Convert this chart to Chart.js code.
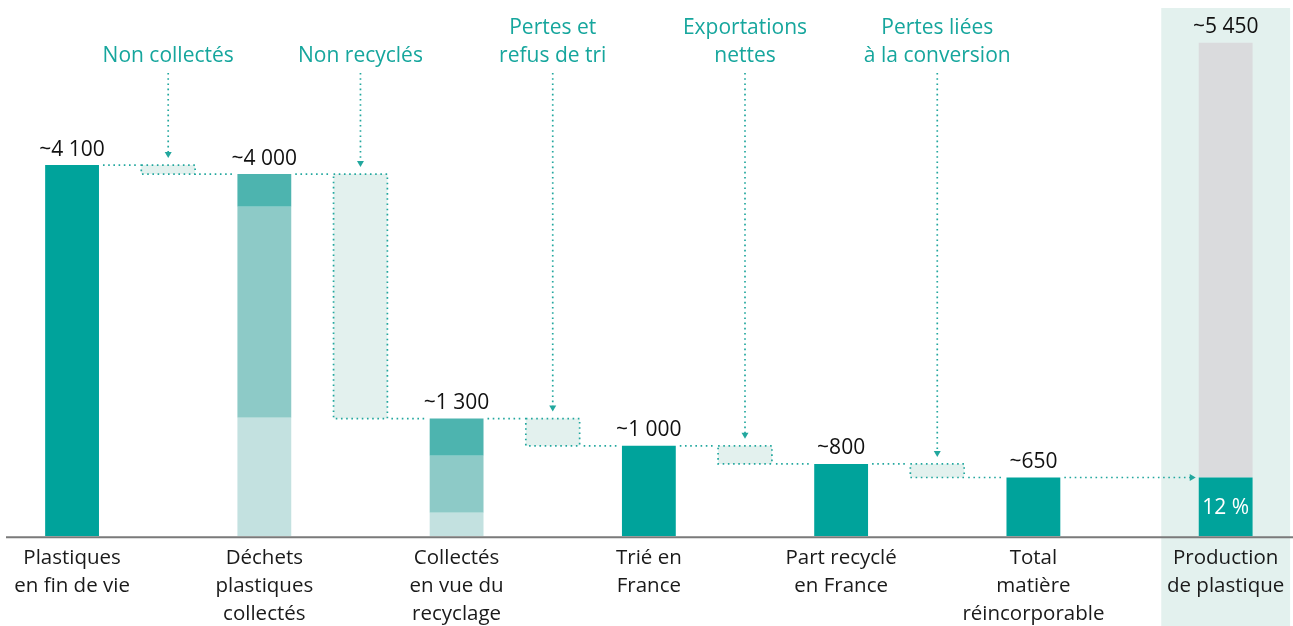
<!DOCTYPE html>
<html>
<head>
<meta charset="utf-8">
<script src="https://cdn.jsdelivr.net/npm/chart.js@4.4.1/dist/chart.umd.min.js"></script>
<style>
    html, body { margin: 0; padding: 0; background: #fff; }
    #cadre { width: 1293px; height: 626px; }
</style>
</head>
<body>
<div id="cadre"><canvas id="graphique"></canvas></div>
<script>
// catégories (13 colonnes, les colonnes vides portent les pertes)
var etapes = [['Plastiques', 'en fin de vie'], '', ['Déchets', 'plastiques', 'collectés'], '',
    ['Collectés', 'en vue du', 'recyclage'], '', ['Trié en', 'France'], '', ['Part recyclé', 'en France'], '',
    ['Total', 'matière', 'réincorporable'], '', ['Production', 'de plastique']];

// barres pleines (kt)
var totaux = [4100, null, null, null, null, null, 1000, null, 800, null, 650, null, 650];
var totauxTexte = ['~4 100', '', '~4 000', '', '~1 300', '', '~1 000', '', '~800', '', '~650', '', ''];
var sommets = [4100, null, 4000, null, 1300, null, 1000, null, 800, null, 650, null, null];

// barres empilées (déchets collectés / collectés en vue du recyclage)
var segClair = [null, null, 1310, null, 260, null, null, null, null, null, null, null, null];
var segMoyen = [null, null, 3640, null, 890, null, null, null, null, null, null, null, null];
var segFonce = [null, null, 4000, null, 1300, null, null, null, null, null, null, null, null];

// pertes (barres flottantes)
var pertesHaut = [null, 4100, null, 4000, null, 1300, null, 1000, null, 800, null, null, null];
var pertesBas = [null, 4000, null, 1300, null, 1000, null, 800, null, 650, null, null, null];
var pertesNoms = [null, ['', 'Non collectés'], null, ['', 'Non recyclés'], null, ['Pertes et', 'refus de tri'], null,
    ['Exportations', 'nettes'], null, ['Pertes liées', 'à la conversion'], null, null, null];

// production
var production = 5450;
var productionTexte = '~5 450';
var partTexte = '12 %';

var TEAL = '#00A39B';
var POLICE = '"Open Sans", "Noto Sans", sans-serif';

function flottant(bas, haut) {
    return bas.map(function (b, i) { return (b === null || haut[i] === null) ? null : [b, haut[i]]; });
}
var zeros = etapes.map(function () { return 0; });

var dataPrincipale = totaux.map(function (v) { return v === null ? null : [0, v]; });
var dataClair = flottant(zeros, segClair);
var dataMoyen = flottant(segClair, segMoyen);
var dataFonce = flottant(segMoyen, segFonce);
var dataPertes = flottant(pertesBas, pertesHaut);
var dataGris = etapes.map(function (e, i) { return i === 12 ? [650, production] : null; });

function pointille(ctx) {
    ctx.setLineDash([1.6, 3.6]);
    ctx.lineWidth = 1.7;
    ctx.strokeStyle = '#22A79E';
}

var decor = {
    id: 'decor',
    beforeDraw: function (chart) {
        var ctx = chart.ctx;
        var x = chart.scales.x;
        var pas = x.getPixelForValue(1) - x.getPixelForValue(0);
        var cx = x.getPixelForValue(12);
        ctx.save();
        ctx.fillStyle = '#E3F1EE';
        ctx.fillRect(cx - pas * 0.67, 8, pas * 1.34, chart.height);
        ctx.restore();
    },
    afterDatasetsDraw: function (chart) {
        var ctx = chart.ctx;
        var y = chart.scales.y;
        var x = chart.scales.x;
        var area = chart.chartArea;
        var barres = chart.getDatasetMeta(0).data;
        var pertes = chart.getDatasetMeta(4).data;
        var empile = chart.getDatasetMeta(3).data;
        var gris = chart.getDatasetMeta(5).data;
        ctx.save();

        // ligne de base
        ctx.strokeStyle = '#7A7A7A';
        ctx.lineWidth = 2;
        ctx.beginPath();
        ctx.moveTo(6, area.bottom + 1);
        ctx.lineTo(chart.width, area.bottom + 1);
        ctx.stroke();

        // bordures pointillées des pertes
        pointille(ctx);
        pertes.forEach(function (b, i) {
            if (dataPertes[i] === null) return;
            var g = b.x - b.width / 2, d = b.x + b.width / 2;
            ctx.strokeRect(g, Math.min(b.y, b.base), d - g, Math.abs(b.base - b.y));
        });

        // connecteurs horizontaux
        function bord(i) {
            var el = dataPertes[i] !== null ? pertes[i] : (dataPrincipale[i] !== null ? barres[i] : empile[i]);
            return { g: el.x - el.width / 2, d: el.x + el.width / 2 };
        }
        for (var i = 0; i < 10; i++) {
            var niveau = sommets[i] !== null ? sommets[i] : pertesBas[i];
            var a = bord(i), b = bord(i + 1);
            var py = y.getPixelForValue(niveau);
            ctx.beginPath();
            ctx.moveTo(a.d + 4, py);
            ctx.lineTo(b.g - 2, py);
            ctx.stroke();
        }

        // flèche vers la production
        var py650 = y.getPixelForValue(650);
        var xg = gris[12].x - gris[12].width / 2;
        ctx.beginPath();
        ctx.moveTo(barres[10].x + barres[10].width / 2 + 4, py650);
        ctx.lineTo(xg - 8, py650);
        ctx.stroke();
        ctx.setLineDash([]);
        ctx.fillStyle = '#22A79E';
        ctx.beginPath();
        ctx.moveTo(xg - 3, py650);
        ctx.lineTo(xg - 9, py650 - 3.5);
        ctx.lineTo(xg - 9, py650 + 3.5);
        ctx.closePath();
        ctx.fill();

        // annotations des pertes
        ctx.font = '21px ' + POLICE;
        ctx.textAlign = 'center';
        ctx.textBaseline = 'middle';
        pertes.forEach(function (b, i) {
            if (!pertesNoms[i]) return;
            ctx.fillStyle = '#16A69D';
            ctx.fillText(pertesNoms[i][0], b.x, 28);
            ctx.fillText(pertesNoms[i][1], b.x, 56);
            var haut = y.getPixelForValue(pertesHaut[i]);
            pointille(ctx);
            ctx.beginPath();
            ctx.moveTo(b.x, 73);
            ctx.lineTo(b.x, haut - 12);
            ctx.stroke();
            ctx.setLineDash([]);
            ctx.fillStyle = '#22A79E';
            ctx.beginPath();
            ctx.moveTo(b.x - 3.5, haut - 13);
            ctx.lineTo(b.x + 3.5, haut - 13);
            ctx.lineTo(b.x, haut - 7);
            ctx.closePath();
            ctx.fill();
        });

        // valeurs
        ctx.fillStyle = '#111';
        ctx.textBaseline = 'bottom';
        ctx.font = '21px ' + POLICE;
        totauxTexte.forEach(function (t, i) {
            if (!t) return;
            ctx.fillText(t, x.getPixelForValue(i), y.getPixelForValue(sommets[i]) - 5);
        });
        ctx.fillText(productionTexte, gris[12].x, y.getPixelForValue(production) - 5);
        ctx.fillStyle = '#fff';
        ctx.textBaseline = 'middle';
        ctx.fillText(partTexte, barres[12].x, (y.getPixelForValue(0) + y.getPixelForValue(650)) / 2 + 1);
        ctx.restore();
    }
};

new Chart(document.getElementById('graphique'), {
    type: 'bar',
    data: {
        labels: etapes,
        datasets: [
            { data: dataPrincipale, backgroundColor: TEAL },
            { data: dataClair, backgroundColor: '#C3E1E0' },
            { data: dataMoyen, backgroundColor: '#8DCAC7' },
            { data: dataFonce, backgroundColor: '#4DB4AF' },
            { data: dataPertes, backgroundColor: '#E3F1EE' },
            { data: dataGris, backgroundColor: '#DADBDD' }
        ]
    },
    options: {
        responsive: true,
        maintainAspectRatio: false,
        animation: false,
        layout: { padding: { top: 2, left: 24, right: 17, bottom: -10 } },
        datasets: { bar: { grouped: false, barPercentage: 0.56, categoryPercentage: 1 } },
        plugins: { legend: { display: false }, tooltip: { enabled: false } },
        scales: {
            x: {
                grid: { display: false, drawTicks: false },
                border: { display: false },
                ticks: {
                    autoSkip: false, maxRotation: 0, padding: 8,
                    color: '#1A1A1A',
                    font: { family: POLICE, size: 20.5, lineHeight: 1.36 }
                }
            },
            y: { display: false, min: 0, max: 5900 }
        }
    },
    plugins: [decor]
});
</script>
</body>
</html>
